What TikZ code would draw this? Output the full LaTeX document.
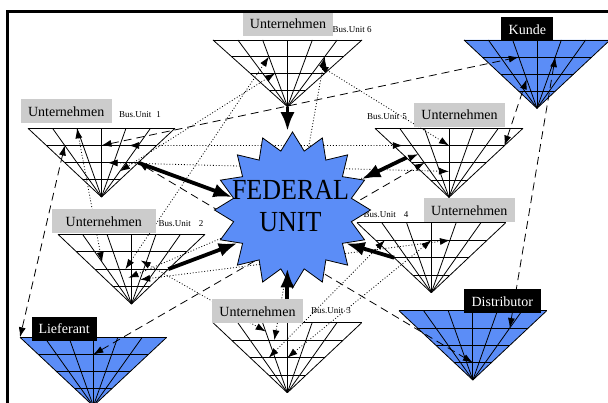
\documentclass[tikz,border=0pt]{standalone}
\usepackage{fontspec}
\usepackage{graphicx}
\setmainfont{Liberation Serif}
\usetikzlibrary{arrows.meta,calc,shapes.geometric}

\definecolor{fedblue}{RGB}{91,141,247}
\definecolor{labgrey}{RGB}{204,204,204}

\tikzset{
  gridline/.style={line width=0.8pt},
  dotline/.style={line width=0.8pt, dash pattern=on 0.9pt off 2pt,
    {Latex[length=10pt,width=7pt]}-{Latex[length=10pt,width=7pt]}},
  dashline/.style={line width=0.8pt, dash pattern=on 8pt off 5pt,
    {Latex[length=10pt,width=7pt]}-{Latex[length=10pt,width=7pt]}},
  bigarrow/.style={line width=3.8pt, -{Latex[length=19pt,width=14pt]}},
  glab/.style={fill=labgrey, inner sep=0pt, minimum height=24pt,
    font=\fontsize{14}{16}\selectfont},
  blab/.style={fill=black, text=white, inner sep=0pt, minimum height=24pt,
    font=\fontsize{14}{16}\selectfont},
  bu/.style={inner sep=0pt, font=\fontsize{9}{10}\selectfont},
}

% funnel: name, left x, right x, top y, apex y, fill colour
% grid points: name-j-k (level j = 0..3 from the top, ray k = 0..6), apex name-a
\newcommand\funnel[6]{%
  \coordinate (#1-a) at ({(#2+#3)/2},#5);
  \fill[#6] (#2,#4) -- (#3,#4) -- (#1-a) -- cycle;
  \foreach \k in {0,...,6}{%
    \coordinate (#1-0-\k) at ({#2+(#3-#2)*\k/6},#4);
    \foreach \j in {1,2,3}{%
      \coordinate (#1-\j-\k) at ({(#2+#3)/2+(1-\j/4)*((#3-#2)*\k/6-(#3-#2)/2)},{#5+(1-\j/4)*(#4-#5)});
    }%
    \draw[gridline] (#1-a) -- (#1-0-\k);
  }%
  \foreach \j in {0,...,3}{\draw[gridline] (#1-\j-0) -- (#1-\j-6);}%
}

\begin{document}
\begin{tikzpicture}[x=1pt,y=-1pt]
\useasboundingbox (0,0) rectangle (608,403);

% funnels
\funnel{u6}{213}{362}{40}{106.7}{white}
\funnel{ku}{464}{610}{40}{108.3}{fedblue}
\funnel{u1}{28}{175}{128.3}{197}{white}
\funnel{u5}{375}{523}{128.3}{197.3}{white}
\funnel{u2}{58}{205}{234.3}{304}{white}
\funnel{u4}{357}{505.7}{222.7}{292.7}{white}
\funnel{u3}{213}{361.7}{322.7}{392.7}{white}
\funnel{lf}{20}{166.7}{337.3}{406}{fedblue}
\funnel{di}{399}{546.7}{310.7}{380}{fedblue}

% business unit captions
\node[bu] (bu6) at (352,30) {Bus.Unit 6};
\node[bu] (bu1) at (140,115) {Bus.Unit\hspace{5pt}1};
\node[bu] (bu5) at (387,117) {Bus.Unit\hspace{3pt}5};
\node[bu] (bu2) at (181,224) {Bus.Unit\hspace{8pt}2};
\node[bu] (bu4) at (386,215) {Bus.Unit\hspace{8pt}4};
\node[bu] (bu3) at (331,311) {Bus.Unit\hspace{3pt}3};

% dashed links
\draw[dashline] (u1-1-3) -- (ku-1-2);
\draw[dashline] (u5-1-6) -- ($(ku-2-2)!.3!(ku-3-2)$);
\draw[dashline] (di-1-5) -- (ku-1-4);
\draw[dashline] (u1-1-1) -- (lf-0-0);
\draw[dashline] (u1-2-6) -- (di-3-3);
\draw[dashline] (lf-1-3) -- (u5-2-1);

% dotted links
\draw[dotline] (u1-0-2) -- ($(u2-1-1)!.6!(u2-2-1)$);
\draw[dotline] (u6-1-2) -- ($(u2-2-2)!.5!(u2-2-3)$);
\draw[dotline] (u6-2-2) -- ($(u1-2-5)!.5!(u1-3-5)$);
\draw[dotline] ($(u6-1-5)!.5!(u6-2-5)$) -- (u5-1-3);
\draw[dotline] (u6-1-5) -- ($(u3-1-2)!.3!(u3-1-3)$);
\draw[dotline] ($(u1-1-4)!.5!(u1-1-5)$) -- ($(u5-1-0)!.5!(u5-1-1)$);
\draw[dotline] ($(u1-2-3)!.5!(u1-2-4)$) -- ($(u5-2-3)!.5!(u5-3-3)$);
\draw[dotline] ($(u2-2-4)!.6!(u2-3-4)$) -- (u4-1-4);
\draw[dotline] ($(u2-1-4)!.5!(u2-2-3)$) -- ($(u3-0-2)!.5!(u3-1-2)$);
\draw[dotline] ($(u2-2-3)!.5!(u2-3-2)$) -- ($(u5-1-1)!.5!(u5-2-1)$);
\draw[dotline] ($(u3-2-1)!.5!(u3-2-2)$) -- ($(u4-1-0)!.5!(u4-1-1)$);
\draw[dotline] (u3-2-3) -- (u4-1-3);

% labels
\node[glab, minimum width=90.6pt] (u6lab) at (288,23.8) {Unternehmen};
\node[glab, minimum width=91pt] (u1lab) at (66.2,111.3) {Unternehmen};
\node[glab, minimum width=91pt] (u5lab) at (459.5,115) {Unternehmen};
\node[glab, minimum width=104pt] (u2lab) at (103.8,221.3) {Unternehmen};
\node[glab, minimum width=90.7pt] (u4lab) at (469.3,210.5) {Unternehmen};
\node[glab, minimum width=91.6pt] (u3lab) at (257.5,311.3) {Unternehmen};
\node[blab, minimum width=52pt] (kulab) at (527.3,29.5) {Kunde};
\node[blab, minimum width=65pt] (lflab) at (64.2,328.7) {Lieferant};
\node[blab, minimum width=76.7pt] (dilab) at (502.3,301.3) {Distributor};

% federal unit
\node[star, star points=16, star point ratio=1.3, minimum size=156pt,
      inner sep=0pt, draw, line width=0.8pt, fill=fedblue] (fed) at (292.5,210) {};
\coordinate (fedS) at ($(fed.center)!0.74!(fed.south)$);

% main flows into the federal unit
\draw[bigarrow] (u6-a) -- (u6-a |- fed.north);
\draw[bigarrow] (u1-2-6) -- (fed.168);
\draw[bigarrow] (u2-2-6) -- (fed.211);
\draw[bigarrow] (u3-0-3 |- u3lab.north) -- (u3-0-3 |- fedS);
\draw[bigarrow] (u4-2-0) -- (fed.-32);
\draw[bigarrow] ($(u5-1-0)!.7!(u5-2-0)$) -- (fed.24);

\node[align=center, inner sep=0pt, font=\fontsize{26}{32.5}\selectfont] (fedtext) at (290.5,206)
  {\scalebox{1}[1.12]{FEDERAL}\\\scalebox{1}[1.12]{UNIT}};

% frame
\draw[line width=3pt] (7.5,403) -- (7.5,11.3) -- (608,11.3);
\end{tikzpicture}
\end{document}
